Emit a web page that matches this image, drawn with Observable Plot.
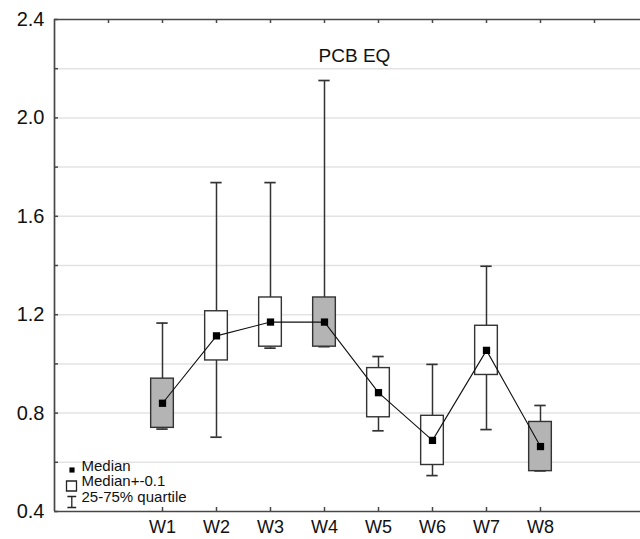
<!DOCTYPE html>
<html><head><meta charset="utf-8">
<script src="https://cdn.jsdelivr.net/npm/d3@7"></script>
<script src="https://cdn.jsdelivr.net/npm/@observablehq/plot@0.6"></script>
<style>
html,body{margin:0;padding:0;background:#fff;}
#chart svg{display:block;}
</style></head><body><div id="chart"></div>
<script>
// ---- data ----
const categories = ["W1","W2","W3","W4","W5","W6","W7","W8"];
const positions  = [1, 2, 3, 4, 5, 6, 7, 8];
const medians    = [0.840, 1.114, 1.170, 1.170, 0.883, 0.689, 1.055, 0.664];
const halfBox    = 0.1; // "Median+-0.1"
const quartile25 = [0.735, 0.702, 1.064, 1.070, 0.728, 0.546, 0.733, 0.565];
const quartile75 = [1.166, 1.737, 1.737, 2.152, 1.030, 0.998, 1.397, 0.831];
const shaded     = [true, false, false, true, false, false, false, true];
const yLabels    = [0.4, 0.8, 1.2, 1.6, 2.0, 2.4];
const yMinorTicks = [0.4, 0.6, 0.8, 1.0, 1.2, 1.4, 1.6, 1.8, 2.0, 2.2, 2.4];
const gridValues = [0.6, 0.8, 1.0, 1.2, 1.4, 1.6, 1.8, 2.0, 2.2];
const topTicks   = [0, 1, 2, 3, 4, 5, 6, 7, 8, 9];
const xDomain    = [-1, 9.852];
const yDomain    = [0.4, 2.4];
const title      = "PCB EQ";
const legendItems = ["Median", "Median+-0.1", "25-75% quartile"];

const data = categories.map((c, k) => ({
  cat: c, pos: positions[k], med: medians[k],
  lo: medians[k] - halfBox, hi: medians[k] + halfBox,
  q1: quartile25[k], q3: quartile75[k], shaded: shaded[k]
}));

const boxHalf = 0.21, capHalf = 0.105;
const frameColor = "#474747";
const whiskerSymbol = {
  draw(ctx, size) {
    const r = Math.sqrt(size / Math.PI), h = r, w = r * 0.8;
    ctx.moveTo(-w, -h); ctx.lineTo(w, -h);
    ctx.moveTo(0, -h); ctx.lineTo(0, h);
    ctx.moveTo(-w, h); ctx.lineTo(w, h);
  }
};
const legendDy = [-41, -25.5, -10];

const chart = Plot.plot({
  width: 640, height: 539,
  marginLeft: 54, marginRight: 0, marginTop: 19, marginBottom: 28,
  style: {fontFamily: "'Liberation Sans', Arial, sans-serif", background: "#fff", color: "#111"},
  x: {domain: xDomain},
  y: {domain: yDomain},
  marks: [
    Plot.ruleY(gridValues, {stroke: "#e3e3e3", strokeWidth: 1.5}),
    // frame
    Plot.ruleX([xDomain[0]], {stroke: frameColor, strokeWidth: 1.7}),
    Plot.ruleY([yDomain[0], yDomain[1]], {stroke: frameColor, strokeWidth: 1.7}),
    // inward ticks
    Plot.tickX(topTicks, {x: d => d, insetBottom: 488, stroke: frameColor, strokeWidth: 1.5}),
    Plot.tickX(positions, {x: d => d, insetTop: 488, stroke: frameColor, strokeWidth: 1.5}),
    Plot.tickY(yMinorTicks, {y: d => d, insetRight: 582, stroke: frameColor, strokeWidth: 1.5}),
    // axis labels
    Plot.axisY({ticks: yLabels, tickSize: 0, tickPadding: 10, tickFormat: d3.format(".1f"), fontSize: 20, label: null, fill: "#111"}),
    Plot.axisX({ticks: positions, tickSize: 0, tickPadding: 9, tickFormat: d => categories[d - 1], fontSize: 18, label: null, fill: "#111"}),
    // whiskers
    Plot.ruleX(data, {x: "pos", y1: "q1", y2: "q3", stroke: "#333", strokeWidth: 1.5}),
    Plot.ruleY(data, {y: "q1", x1: d => d.pos - capHalf, x2: d => d.pos + capHalf, stroke: "#333", strokeWidth: 1.7}),
    Plot.ruleY(data, {y: "q3", x1: d => d.pos - capHalf, x2: d => d.pos + capHalf, stroke: "#333", strokeWidth: 1.7}),
    // boxes
    Plot.rect(data, {x1: d => d.pos - boxHalf, x2: d => d.pos + boxHalf, y1: "lo", y2: "hi",
      fill: d => d.shaded ? "#b4b4b4" : "#ffffff", stroke: "#333", strokeWidth: 1.4}),
    // median line + markers
    Plot.line(data, {x: "pos", y: "med", stroke: "#111", strokeWidth: 1.1}),
    Plot.dot(data, {x: "pos", y: "med", symbol: "square", r: 4.1, fill: "#000", stroke: "none"}),
    // title
    Plot.text([title], {frameAnchor: "top", dx: 7, dy: 29, fontSize: 19, fill: "#111"}),
    // legend
    Plot.dot([0], {frameAnchor: "bottom-left", dx: 17.5, dy: -41.5, symbol: "square", r: 2.9, fill: "#000", stroke: "none"}),
    Plot.dot([0], {frameAnchor: "bottom-left", dx: 17, dy: -25.5, symbol: "square", r: 5.64, fill: "#fff", stroke: "#222", strokeWidth: 1.3}),
    Plot.dot([0], {frameAnchor: "bottom-left", dx: 17.3, dy: -9.5, symbol: whiskerSymbol, r: 5.5, fill: "none", stroke: "#222", strokeWidth: 1.3}),
    ...legendItems.map((t, k) => Plot.text([t], {frameAnchor: "bottom-left", textAnchor: "start", dx: 27,
      dy: legendDy[k], fontSize: 15, fill: "#111"}))
  ]
});
document.getElementById("chart").appendChild(chart);
</script>
</body></html>
